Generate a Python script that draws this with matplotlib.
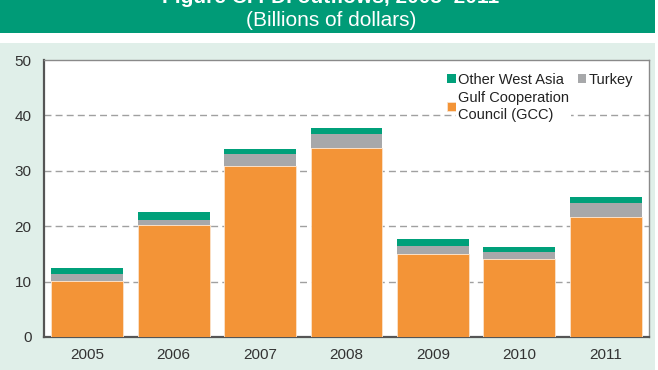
import matplotlib
matplotlib.use("Agg")
import matplotlib.pyplot as plt
from matplotlib.patches import Rectangle
import numpy as np

years = ["2005", "2006", "2007", "2008", "2009", "2010", "2011"]
gcc = [10.1, 20.3, 30.9, 34.1, 14.9, 14.0, 21.7]
turkey = [1.2, 0.9, 2.1, 2.5, 1.6, 1.4, 2.4]
other = [1.1, 1.3, 0.9, 1.2, 1.2, 0.9, 1.2]
yticks = [0, 10, 20, 30, 40, 50]

title_line1 = "Figure C. FDI outflows, 2005–2011"
title_line2 = "(Billions of dollars)"

plt.rcParams['font.family'] = ['Liberation Sans', 'DejaVu Sans']

fig = plt.figure(figsize=(6.58, 3.70), dpi=100)
W, H = 658, 370

# mint background panel
fig.patches.append(Rectangle((0, 0), 655 / W, (H - 43) / H, transform=fig.transFigure,
                             facecolor="#e0efe9", edgecolor="none", zorder=-10))
# green header band
fig.patches.append(Rectangle((0, (H - 33) / H), 655 / W, 33 / H, transform=fig.transFigure,
                             facecolor="#009b77", edgecolor="none", zorder=-10))
fig.text(331 / W, 1 - 3 / H, title_line1, color="white", fontsize=15, fontweight="bold",
         ha="center", va="baseline")
fig.text(331 / W, 1 - 20 / H, title_line2, color="white", fontsize=15,
         ha="center", va="center")

ax = fig.add_axes([44 / W, (H - 337) / H, 605 / W, 277 / H])
ax.set_facecolor("white")

x = np.arange(len(years))
gcc_a = np.array(gcc)
tur_a = np.array(turkey)
oth_a = np.array(other)
w = 0.83
b1 = ax.bar(x, gcc_a, w, color="#f39437", edgecolor="#fbe3cc", linewidth=0.6,
            label="Gulf Cooperation\nCouncil (GCC)", zorder=3)
b2 = ax.bar(x, tur_a, w, bottom=gcc_a, color="#a7a8aa", edgecolor="none",
            label="Turkey", zorder=3)
b3 = ax.bar(x, oth_a, w, bottom=gcc_a + tur_a, color="#00a07a", edgecolor="none",
            label="Other West Asia", zorder=3)

ax.set_xlim(-0.5, len(years) - 0.5)
ax.set_ylim(0, 50)
ax.set_yticks(yticks)
ax.set_xticks(x)
ax.set_xticklabels(years)
ax.tick_params(axis="both", length=0, labelsize=11, colors="#333333")
ax.tick_params(axis="y", pad=9)
ax.tick_params(axis="x", pad=8)

for yv in yticks[1:-1]:
    ax.axhline(yv, color="#a0a0a0", linestyle=(0, (5, 3)), linewidth=1.0, zorder=1)

for s in ["left", "bottom"]:
    ax.spines[s].set_color("#555555")
    ax.spines[s].set_linewidth(1.6)
for s in ["top", "right"]:
    ax.spines[s].set_color("#8a8a8a")
    ax.spines[s].set_linewidth(1.0)

leg = ax.legend(handles=[b3, b1, b2], ncol=2, loc="upper left",
                bbox_to_anchor=(0.650, 0.99), frameon=False, fontsize=10.5,
                handlelength=0.6, handleheight=0.6, handletextpad=0.12,
                columnspacing=0.6, labelspacing=0.3, borderpad=0.2)
for t in leg.get_texts():
    t.set_color("#222222")
    t.set_bbox(dict(facecolor="white", edgecolor="none", pad=1.5))
leg.set_zorder(5)

fig.savefig("out.png", dpi=100)
